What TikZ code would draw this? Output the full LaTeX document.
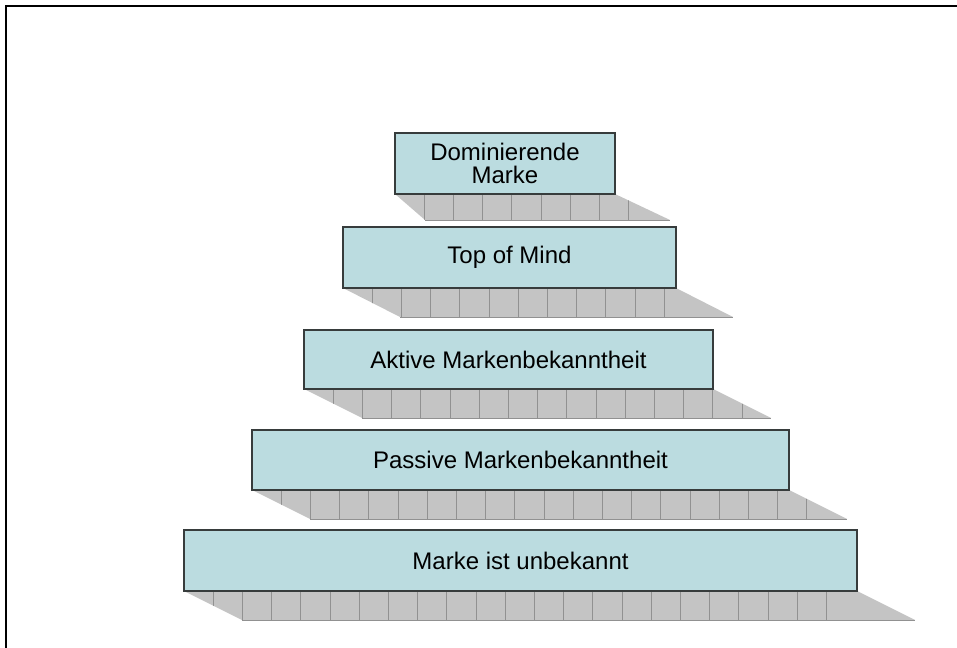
\documentclass[tikz,border=0pt]{standalone}
\usepackage{fontspec}
\setmainfont{Liberation Sans}
\definecolor{boxfill}{RGB}{187,220,224}
\definecolor{boxline}{RGB}{55,60,60}
\definecolor{shadefill}{RGB}{196,196,196}
\definecolor{shadeline}{RGB}{145,145,145}

\begin{document}
\begin{tikzpicture}[x=0.75pt,y=-0.75pt,
  level/.style={draw=boxline, line width=1.1pt, fill=boxfill, inner sep=0pt,
    font=\fontsize{18}{17.5}\selectfont, align=center},
  slab/.style={fill=shadefill},
  seam/.style={draw=shadeline, line width=0.6pt}]
\useasboundingbox (0,0) rectangle (957,648);

% outer frame (top and left edges)
\draw[line width=1.6pt] (6,648) -- (6,6) -- (957,6);

% pyramid tiers: name / left / top / right / bottom / label / seams / left slant / right slant / depth
\foreach \nm/\xa/\ya/\xb/\yb/\txt/\n/\dl/\dr/\dy in {
  dom/395/133/615/194/{Dominierende\\Marke}/8/30/55/26,
  top/343/227/676/288/{Top of Mind}/11/57/57/29,
  akt/304/330/713/389/{Aktive Markenbekanntheit}/15/58/58/29,
  pas/252/430/789/490/{Passive Markenbekanntheit}/19/58/58/29,
  unb/184/530/857/591/{Marke ist unbekannt}/22/58/58/29} {
  % slanted ground slab under the tier
  \fill[slab] (\xa,\yb) -- (\xb,\yb) -- ({\xb+\dr},{\yb+\dy}) -- ({\xa+\dl},{\yb+\dy}) -- cycle;
  \begin{scope}
    \clip (\xa,\yb) -- (\xb,\yb) -- ({\xb+\dr},{\yb+\dy}) -- ({\xa+\dl},{\yb+\dy}) -- cycle;
    \foreach \k in {1,...,\n}
      \draw[seam] ({\xa+29.2*\k},\yb) -- ++(0,\dy);
  \end{scope}
  \draw[seam] ({\xa+\dl},{\yb+\dy}) -- ({\xb+\dr},{\yb+\dy});
  % the tier itself
  \node[level, minimum width={(\xb-\xa)*0.75pt}, minimum height={(\yb-\ya)*0.75pt}]
    (\nm) at ({(\xa+\xb)/2},{(\ya+\yb)/2}) {\txt};
}
\end{tikzpicture}
\end{document}
